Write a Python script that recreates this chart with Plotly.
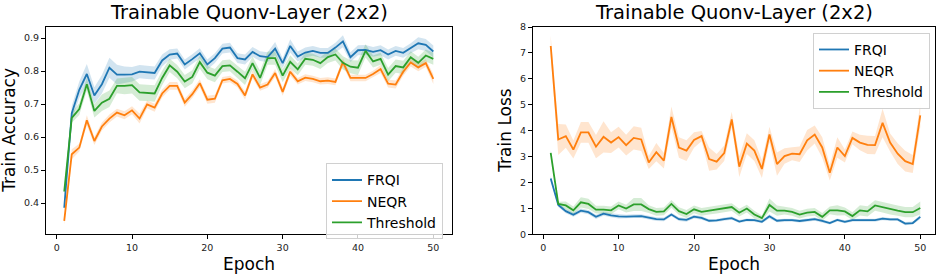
import plotly.graph_objects as go

EPOCHS = list(range(1, 51))

FRQI_ACC = [0.386, 0.672, 0.743, 0.791, 0.726, 0.760, 0.810, 0.789, 0.789, 0.790,
            0.798, 0.796, 0.794, 0.832, 0.850, 0.853, 0.820, 0.836, 0.854, 0.820,
            0.839, 0.868, 0.871, 0.839, 0.835, 0.858, 0.845, 0.842, 0.868, 0.824,
            0.876, 0.844, 0.856, 0.861, 0.855, 0.855, 0.871, 0.890, 0.842, 0.863,
            0.864, 0.858, 0.863, 0.850, 0.861, 0.855, 0.869, 0.884, 0.879, 0.859]
NEQR_ACC = [0.346, 0.548, 0.568, 0.651, 0.588, 0.632, 0.656, 0.674, 0.666, 0.681,
            0.656, 0.699, 0.689, 0.732, 0.755, 0.755, 0.704, 0.730, 0.763, 0.713,
            0.716, 0.772, 0.776, 0.761, 0.726, 0.790, 0.750, 0.759, 0.794, 0.737,
            0.798, 0.769, 0.780, 0.776, 0.769, 0.771, 0.767, 0.827, 0.779, 0.779,
            0.779, 0.791, 0.806, 0.762, 0.759, 0.798, 0.826, 0.811, 0.824, 0.776]
THRESH_ACC = [0.435, 0.658, 0.685, 0.760, 0.679, 0.704, 0.716, 0.755, 0.755, 0.757,
              0.735, 0.734, 0.732, 0.779, 0.817, 0.798, 0.768, 0.782, 0.827, 0.795,
              0.786, 0.815, 0.817, 0.798, 0.778, 0.824, 0.779, 0.839, 0.839, 0.786,
              0.828, 0.805, 0.837, 0.834, 0.824, 0.842, 0.850, 0.825, 0.813, 0.810,
              0.861, 0.829, 0.837, 0.789, 0.815, 0.811, 0.842, 0.825, 0.847, 0.837]

FRQI_ACC_SD = [0.012, 0.022, 0.025, 0.030, 0.025, 0.028, 0.030, 0.030, 0.025, 0.022,
               0.020, 0.020, 0.020, 0.018, 0.016, 0.015, 0.015, 0.015, 0.015, 0.015,
               0.015, 0.015, 0.015, 0.015, 0.015, 0.015, 0.015, 0.015, 0.020, 0.015,
               0.020, 0.015, 0.015, 0.015, 0.015, 0.015, 0.015, 0.018, 0.015, 0.015,
               0.015, 0.015, 0.015, 0.015, 0.015, 0.015, 0.015, 0.018, 0.018, 0.018]
NEQR_ACC_SD = [0.012, 0.015, 0.012, 0.015, 0.012, 0.012, 0.012, 0.012, 0.012, 0.012,
               0.015, 0.012, 0.012, 0.012, 0.012, 0.012, 0.012, 0.012, 0.012, 0.012,
               0.012, 0.010, 0.010, 0.010, 0.012, 0.012, 0.010, 0.010, 0.012, 0.012,
               0.012, 0.010, 0.010, 0.010, 0.010, 0.010, 0.010, 0.012, 0.010, 0.010,
               0.010, 0.010, 0.012, 0.012, 0.012, 0.012, 0.012, 0.012, 0.012, 0.015]
THRESH_ACC_SD = [0.015, 0.015, 0.018, 0.020, 0.020, 0.025, 0.025, 0.022, 0.025, 0.025,
                 0.025, 0.025, 0.025, 0.022, 0.020, 0.020, 0.020, 0.020, 0.020, 0.020,
                 0.020, 0.018, 0.018, 0.018, 0.020, 0.020, 0.022, 0.020, 0.020, 0.020,
                 0.020, 0.018, 0.018, 0.018, 0.018, 0.018, 0.018, 0.020, 0.020, 0.022,
                 0.020, 0.018, 0.018, 0.020, 0.020, 0.020, 0.018, 0.018, 0.018, 0.018]

FRQI_LOSS = [2.15, 1.13, 0.89, 0.75, 0.91, 0.85, 0.67, 0.79, 0.73, 0.69,
             0.68, 0.70, 0.70, 0.64, 0.58, 0.57, 0.76, 0.58, 0.55, 0.68,
             0.63, 0.52, 0.53, 0.58, 0.62, 0.49, 0.55, 0.54, 0.48, 0.69,
             0.52, 0.54, 0.54, 0.51, 0.54, 0.58, 0.51, 0.43, 0.55, 0.48,
             0.54, 0.54, 0.54, 0.54, 0.60, 0.57, 0.57, 0.41, 0.43, 0.67]
NEQR_LOSS = [7.27, 3.66, 3.79, 3.27, 3.93, 3.93, 3.38, 3.76, 3.54, 3.75,
             3.44, 3.72, 3.66, 2.77, 3.17, 2.84, 4.53, 3.35, 3.23, 3.64,
             3.79, 2.90, 2.80, 3.13, 4.43, 2.61, 3.50, 3.23, 2.52, 3.85,
             2.71, 3.02, 3.11, 3.09, 3.63, 3.85, 3.35, 2.37, 3.35, 3.02,
             3.72, 3.54, 3.45, 3.44, 4.30, 3.54, 3.11, 2.82, 2.71, 4.59]
THRESH_LOSS = [3.14, 1.17, 1.11, 0.92, 1.23, 1.17, 0.95, 0.95, 0.92, 1.11,
               0.99, 1.15, 1.15, 0.97, 0.86, 0.88, 1.17, 0.89, 0.78, 0.96,
               0.86, 0.91, 0.95, 0.99, 1.05, 0.83, 0.99, 0.76, 0.62, 1.13,
               0.91, 0.91, 0.86, 0.76, 0.83, 0.86, 0.67, 0.92, 0.92, 0.88,
               0.70, 0.92, 0.88, 1.11, 1.04, 0.96, 0.91, 0.85, 0.85, 1.01]

FRQI_LOSS_SD = [0.10, 0.08, 0.08, 0.08, 0.08, 0.08, 0.08, 0.08, 0.08, 0.08,
                0.07, 0.07, 0.07, 0.07, 0.07, 0.07, 0.07, 0.07, 0.07, 0.07,
                0.07, 0.06, 0.06, 0.06, 0.06, 0.06, 0.06, 0.06, 0.06, 0.08,
                0.06, 0.06, 0.06, 0.06, 0.06, 0.06, 0.06, 0.06, 0.06, 0.06,
                0.06, 0.06, 0.06, 0.06, 0.06, 0.06, 0.06, 0.06, 0.06, 0.08]
NEQR_LOSS_SD = [0.40, 0.60, 0.45, 0.35, 0.40, 0.40, 0.45, 0.60, 0.40, 0.40,
                0.40, 0.45, 0.45, 0.25, 0.35, 0.30, 0.40, 0.40, 0.40, 0.30,
                0.20, 0.45, 0.30, 0.30, 0.30, 0.40, 0.40, 0.40, 0.35, 0.30,
                0.45, 0.30, 0.25, 0.30, 0.40, 0.35, 0.40, 0.30, 0.40, 0.25,
                0.25, 0.30, 0.35, 0.35, 0.55, 0.35, 0.40, 0.40, 0.35, 0.45]
THRESH_LOSS_SD = [0.10, 0.08, 0.15, 0.15, 0.20, 0.20, 0.15, 0.15, 0.15, 0.15,
                  0.15, 0.25, 0.25, 0.15, 0.15, 0.15, 0.15, 0.15, 0.15, 0.15,
                  0.15, 0.15, 0.15, 0.15, 0.15, 0.15, 0.15, 0.15, 0.10, 0.25,
                  0.20, 0.15, 0.15, 0.15, 0.15, 0.15, 0.15, 0.15, 0.20, 0.15,
                  0.15, 0.20, 0.20, 0.20, 0.20, 0.20, 0.20, 0.20, 0.20, 0.25]

SERIES = ["FRQI", "NEQR", "Threshold"]
COLORS = ["#1f77b4", "#ff7f0e", "#2ca02c"]
FILLS = ["rgba(31,119,180,0.2)", "rgba(255,127,14,0.2)", "rgba(44,160,44,0.2)"]

TITLE = "Trainable Quonv-Layer (2x2)"
XLABEL = "Epoch"
YLABEL_LEFT = "Train Accuracy"
YLABEL_RIGHT = "Train Loss"
FONT = "DejaVu Sans"

fig = go.Figure()

def add_series(means, sds, xa, ya, legend):
    for name, m, s, c, f in zip(SERIES, means, sds, COLORS, FILLS):
        up = [a + b for a, b in zip(m, s)]
        lo = [a - b for a, b in zip(m, s)]
        fig.add_trace(go.Scatter(
            x=EPOCHS + EPOCHS[::-1], y=up + lo[::-1], fill="toself",
            fillcolor=f, line=dict(width=0), mode="lines", hoverinfo="skip",
            showlegend=False, xaxis=xa, yaxis=ya))
    for name, m, c in zip(SERIES, means, COLORS):
        fig.add_trace(go.Scatter(
            x=EPOCHS, y=m, mode="lines", name=name,
            line=dict(color=c, width=1.8), xaxis=xa, yaxis=ya, legend=legend))

add_series([FRQI_ACC, NEQR_ACC, THRESH_ACC],
           [FRQI_ACC_SD, NEQR_ACC_SD, THRESH_ACC_SD], "x", "y", "legend")
add_series([FRQI_LOSS, NEQR_LOSS, THRESH_LOSS],
           [FRQI_LOSS_SD, NEQR_LOSS_SD, THRESH_LOSS_SD], "x2", "y2", "legend2")

axis_common = dict(showline=True, linecolor="black", linewidth=1, mirror=True,
                   ticks="outside", ticklen=4, tickwidth=1, tickcolor="black",
                   showgrid=False, zeroline=False,
                   tickfont=dict(family=FONT, size=9.5, color="#222"))

L_DOM = [46 / 940, 452 / 940]
R_DOM = [533 / 940, 935 / 940]
Y_DOM = [(274 - 238) / 274, (274 - 22) / 274]

legend_common = dict(font=dict(family=FONT, size=14, color="black"),
                     bgcolor="rgba(255,255,255,0.8)", bordercolor="#d0d0d0",
                     borderwidth=1, xanchor="left", yanchor="top",
                     tracegroupgap=0, itemwidth=30)

fig.update_layout(
    width=940, height=274,
    margin=dict(l=0, r=0, t=0, b=0),
    paper_bgcolor="white", plot_bgcolor="white",
    font=dict(family=FONT, color="black"),
    xaxis=dict(domain=L_DOM, range=[-1.42, 52.48], tickvals=[0, 10, 20, 30, 40, 50],
               anchor="y", **axis_common),
    yaxis=dict(domain=Y_DOM, range=[0.305, 0.933],
               tickvals=[0.4, 0.5, 0.6, 0.7, 0.8, 0.9], anchor="x", **axis_common),
    xaxis2=dict(domain=R_DOM, range=[-1.35, 51.95], tickvals=[0, 10, 20, 30, 40, 50],
                anchor="y2", **axis_common),
    yaxis2=dict(domain=Y_DOM, range=[-0.01, 8.0], tickvals=list(range(0, 9)),
                anchor="x2", **axis_common),
    legend=dict(x=326 / 940, y=(274 - 164) / 274, **legend_common),
    legend2=dict(x=813 / 940, y=(274 - 28) / 274, **legend_common),
    showlegend=True,
)

for dom, ylab, ylx in [(L_DOM, YLABEL_LEFT, 9 / 940), (R_DOM, YLABEL_RIGHT, 505 / 940)]:
    cx = (dom[0] + dom[1]) / 2
    fig.add_annotation(text=TITLE, x=cx, y=(274 - 20) / 274, xref="paper", yref="paper",
                       xanchor="center", yanchor="bottom", showarrow=False, borderpad=0,
                       font=dict(family=FONT, size=19.5, color="black"))
    fig.add_annotation(text=XLABEL, x=cx, y=(274 - 269) / 274, xref="paper", yref="paper",
                       xanchor="center", yanchor="middle", showarrow=False,
                       font=dict(family=FONT, size=17, color="black"))
    fig.add_annotation(text=ylab, x=ylx, y=(Y_DOM[0] + Y_DOM[1]) / 2, xref="paper",
                       yref="paper", xanchor="center", yanchor="middle", textangle=-90,
                       showarrow=False, font=dict(family=FONT, size=17, color="black"))

fig.write_html("out.html", config={"displayModeBar": False},
               post_script="document.body.style.margin='0';document.body.style.overflow='hidden';")
